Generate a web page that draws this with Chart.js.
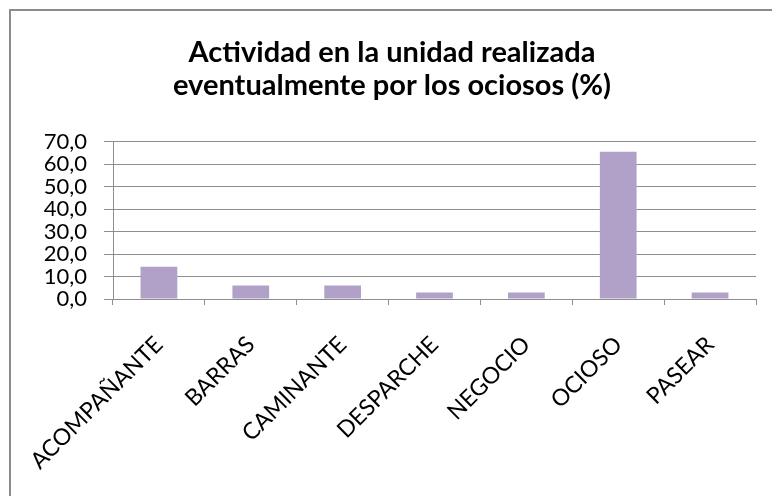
<!DOCTYPE html>
<html>
<head>
<meta charset="utf-8">
<script src="https://cdn.jsdelivr.net/npm/chart.js@4"></script>
<style>
  body { margin: 0; background: #fff; }
  #wrap { position: relative; width: 772px; height: 496px; overflow: hidden; }
  #frame { position: absolute; left: 9px; top: 9px; width: 800px; height: 600px;
           border-top: 2px solid #8c8c8c; border-left: 2px solid #8c8c8c; }
  canvas { position: absolute; left: 0; top: 0; }
</style>
</head>
<body>
<div id="wrap">
  <div id="frame"></div>
  <canvas id="chart" width="772" height="496"></canvas>
</div>
<script>
const categories = ['ACOMPAÑANTE', 'BARRAS', 'CAMINANTE', 'DESPARCHE', 'NEGOCIO', 'OCIOSO', 'PASEAR'];
const values = [14.4, 6.0, 6.0, 2.9, 2.9, 65.5, 2.9];
const titleLines = ['Actividad en la unidad realizada', 'eventualmente por los ociosos (%)'];

const ctx = document.getElementById('chart').getContext('2d');
const font = 'Lato, Calibri, sans-serif';

const chart = new Chart(ctx, {
  type: 'bar',
  data: {
    labels: categories,
    datasets: [{
      data: values,
      backgroundColor: '#b1a1c8',
      borderWidth: 0,
      barPercentage: 0.4,
      categoryPercentage: 1
    }]
  },
  options: {
    responsive: false,
    animation: false,
    layout: { padding: { left: 28, right: 16, top: 0, bottom: 0 } },
    plugins: {
      legend: { display: false },
      tooltip: { enabled: false },
      title: {
        display: true,
        text: titleLines,
        color: '#000',
        font: { family: font, size: 29, weight: 'bold', lineHeight: 1.15 },
        padding: { top: 36, bottom: 39 }
      }
    },
    scales: {
      x: {
        grid: { drawOnChartArea: false, offset: true, tickLength: 6, color: '#8e8e8e' },
        border: { color: '#8e8e8e' },
        ticks: {
          color: '#000',
          font: { family: font, size: 23 },
          maxRotation: 45,
          minRotation: 45,
          autoSkip: false,
          padding: 26
        },
        afterFit: s => { s.height = 197; }
      },
      y: {
        min: 0,
        max: 70,
        grid: { color: '#8e8e8e', tickLength: 9 },
        border: { color: '#8e8e8e' },
        ticks: {
          stepSize: 10,
          autoSkip: false,
          color: '#000',
          font: { family: font, size: 22 },
          padding: 17,
          callback: v => v.toFixed(1).replace('.', ',')
        },
        afterFit: s => { s.width = 85; }
      }
    }
  }
});
</script>
</body>
</html>
